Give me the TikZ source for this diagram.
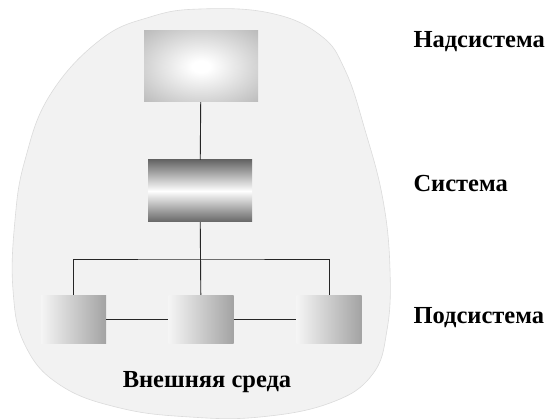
\documentclass[tikz,border=0pt]{standalone}
\usepackage{fontspec}
\setmainfont{Liberation Serif}
\pgfdeclareradialshading{glow}{\pgfpoint{0bp}{0bp}}{color(0bp)=(white); color(4bp)=(white); color(36bp)=(black!27); color(100bp)=(black!27)}
\begin{document}
\begin{tikzpicture}
    [
        x=1pt, y=-1pt,
        blob/.style={fill=black!5, draw=black!14, line width=0.6pt},
        supbox/.style={rectangle, minimum width=114pt, minimum height=71pt, shading=glow},
        sysbox/.style={rectangle, minimum width=104pt, minimum height=62pt, top color=black!60, bottom color=black!60, middle color=white},
        subbox/.style={rectangle, minimum width=65pt, minimum height=48pt, left color=black!4, right color=black!36},
        link/.style={line width=0.9pt, black!85},
        level/.style={anchor=base west, font=\bfseries\fontsize{24.5}{28}\selectfont},
    ]

    \useasboundingbox (0,0) rectangle (545,419);

    % outer environment
    \draw [blob] plot [smooth cycle, tension=0.7] coordinates {
        (200,9) (270,13) (320,35) (345,70) (365,130) (383,200) (390,270)
        (387,330) (372,375) (330,403) (260,417) (190,417) (120,408) (60,385)
        (25,345) (13,290) (15,220) (25,160) (50,95) (100,40) (150,17)};

    % boxes
    \node (sup) at (201,66.5)  [supbox] {};
    \node (sys) at (200,191)   [sysbox] {};
    \node (sub1) at (73.5,319) [subbox] {};
    \node (sub2) at (201,319)  [subbox] {};
    \node (sub3) at (329,319)  [subbox] {};
    \coordinate (bus) at (201,259);

    \draw [link] (sup) -- (sys);
    \draw [link] (sys) -- (sub2);
    \draw [link] (sub1.north) |- (bus) -| (sub3.north);
    \draw [link] (sub1) -- (sub2);
    \draw [link] (sub2) -- (sub3);

    % labels
    \node (env) at (207,387) [anchor=base, font=\bfseries\fontsize{24.5}{28}\selectfont] {Внешняя среда};
    \node (lsup) at (410,48) [level] {Надсистема};
    \node (lsys) at (410,192) [level] {Система};
    \node (lsub) at (410,323) [level] {Подсистема};

\end{tikzpicture}
\end{document}
